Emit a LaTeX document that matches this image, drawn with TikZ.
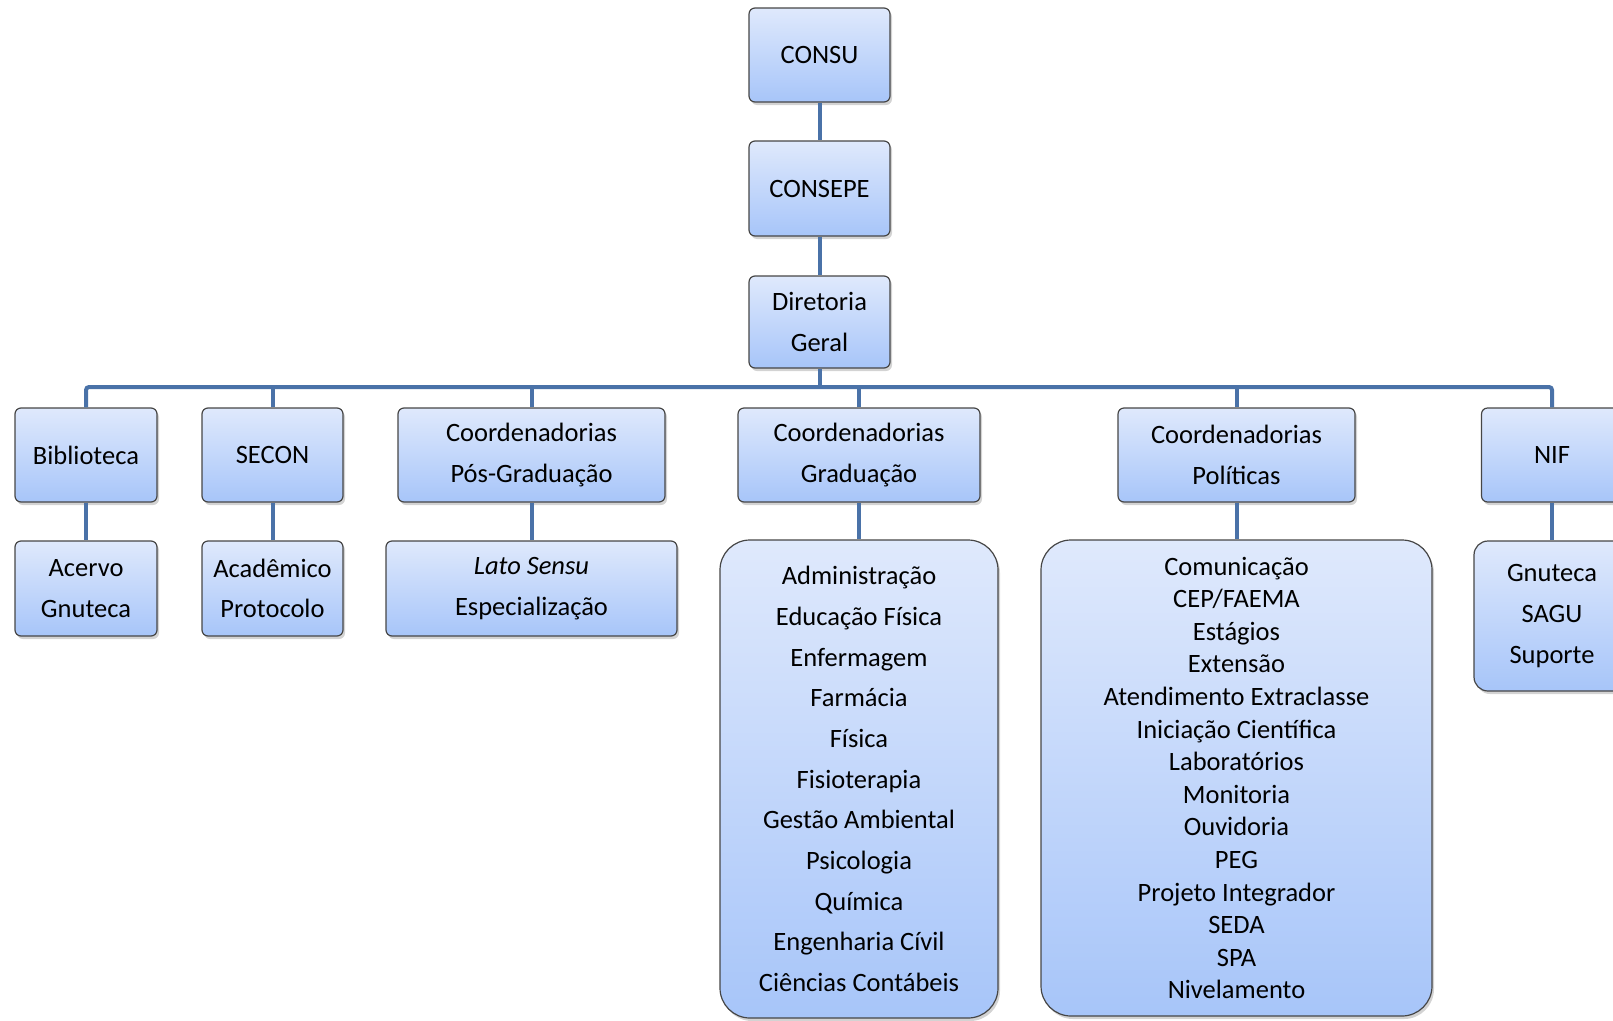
\documentclass[tikz,border=0pt]{standalone}
\usepackage{fontspec}
\setmainfont{Carlito}
\usetikzlibrary{shadows}
\definecolor{boxtop}{HTML}{DFE9FC}
\definecolor{boxbot}{HTML}{A7C5F9}
\definecolor{linkblue}{HTML}{4A72A8}
\begin{document}
\begin{tikzpicture}[x=1pt, y=-1pt,
		box/.style={draw=gray!55!black, line width=1.2pt, rounded corners=6pt,
			top color=boxtop, bottom color=boxbot, align=center, inner sep=0pt,
			font=\fontsize{26.5}{40.7}\selectfont,
			drop shadow={opacity=0.35, shadow xshift=2pt, shadow yshift=-3pt}},
		biglist/.style={box, rounded corners=30pt},
		link/.style={draw=linkblue, line width=4pt}]
		\useasboundingbox (0,0) rectangle (1613,1020);
		
		% Top of the chart
		\node[box, minimum width=141pt, minimum height=94pt] (consu) at (819.5,55) {CONSU};
		\node[box, minimum width=141pt, minimum height=95pt] (consepe) at (819.5,188.5) {CONSEPE};
		\node[box, minimum width=141pt, minimum height=92pt] (dir) at (819.5,322) {Diretoria\\Geral};
		
		% Second row
		\node[box, minimum width=142pt, minimum height=94pt] (bib) at (86,455) {Biblioteca};
		\node[box, minimum width=141pt, minimum height=94pt] (secon) at (272.5,455) {SECON};
		\node[box, minimum width=267pt, minimum height=94pt] (pos) at (531.5,455) {Coordenadorias\\Pós-Graduação};
		\node[box, minimum width=242pt, minimum height=94pt] (grad) at (859,455) {Coordenadorias\\Graduação};
		\node[box, minimum width=237pt, minimum height=94pt] (pol) at (1236.5,455) {Coordenadorias\\Políticas};
		\node[box, minimum width=141pt, minimum height=94pt] (nif) at (1552,455) {NIF};
		
		% Third row
		\node[box, minimum width=142pt, minimum height=95pt] (acervo) at (86,588.5) {Acervo\\Gnuteca};
		\node[box, minimum width=141pt, minimum height=95pt] (acad) at (272.5,588.5) {Acadêmico\\Protocolo};
		\node[box, minimum width=291pt, minimum height=95pt] (lato) at (531.5,588.5) {\textit{Lato Sensu}\\Especialização};
		\node[biglist, minimum width=278pt, minimum height=478pt] (cursos) at (859,779) {Administração\\Educação Física\\Enfermagem\\Farmácia\\Física\\Fisioterapia\\Gestão Ambiental\\Psicologia\\Química\\Engenharia Cívil\\Ciências Contábeis};
		\node[biglist, minimum width=391pt, minimum height=476pt, font=\fontsize{26.5}{32.6}\selectfont] (setores) at (1236.5,778) {Comunicação\\CEP/FAEMA\\Estágios\\Extensão\\Atendimento Extraclasse\\Iniciação Científica\\Laboratórios\\Monitoria\\Ouvidoria\\PEG\\Projeto Integrador\\SEDA\\SPA\\Nivelamento};
		\node[box, rounded corners=14pt, minimum width=156pt, minimum height=150pt] (sistemas) at (1552,616) {Gnuteca\\SAGU\\Suporte};
		
		% Edges
		\coordinate (bus) at (819.5,387);
		\draw[link] (consu) -- (consepe);
		\draw[link] (consepe) -- (dir);
		\draw[link] (dir) -- (bus);
		\draw[link, rounded corners=3pt] (bib.north) |- (bus) -| (nif.north);
		\foreach \n in {secon, pos, grad, pol}
			\draw[link] (\n.north) -- (\n.north |- bus);
		
		\draw[link] (bib) -- (acervo);
		\draw[link] (secon) -- (acad);
		\draw[link] (pos) -- (lato);
		\draw[link] (grad) -- (cursos);
		\draw[link] (pol) -- (setores);
		\draw[link] (nif) -- (sistemas);
		
	\end{tikzpicture}
\end{document}
